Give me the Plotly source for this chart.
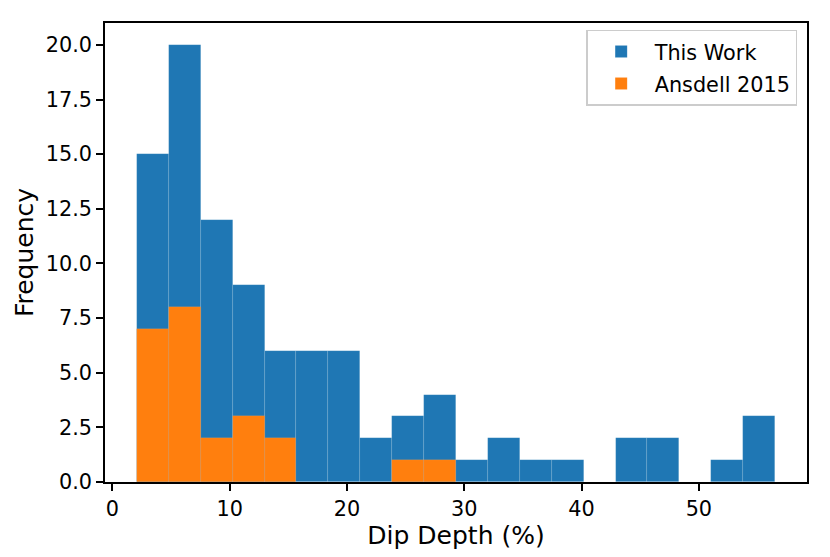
import plotly.graph_objects as go

# 直方图的分箱边界
bin_edges = [2.09, 4.81, 7.53, 10.25, 12.97, 15.69, 18.42, 21.14, 23.86, 26.58, 29.30,
             32.02, 34.74, 37.46, 40.18, 42.90, 45.62, 48.34, 51.06, 53.78, 56.50]

# 每个箱的频数
this_work = [15, 20, 12, 9, 6, 6, 6, 2, 3, 4, 1, 2, 1, 1, 0, 2, 2, 0, 1, 3]
ansdell_2015 = [7, 8, 2, 3, 2, 0, 0, 0, 1, 1, 0, 0, 0, 0, 0, 0, 0, 0, 0, 0]

series_names = ['This Work', 'Ansdell 2015']

centers = [(bin_edges[i] + bin_edges[i + 1]) / 2 for i in range(len(bin_edges) - 1)]
widths = [bin_edges[i + 1] - bin_edges[i] for i in range(len(bin_edges) - 1)]

edge = dict(width=0.6, color='rgba(255,255,255,0.15)')
data = [
    go.Bar(x=centers, y=this_work, width=widths, name=series_names[0],
           legendgroup='a', marker=dict(color='#1f77b4', line=edge)),
    go.Bar(x=centers, y=ansdell_2015, width=widths, name=series_names[1],
           legendgroup='b', marker=dict(color='#ff7f0e', line=edge)),
]

font = dict(family='DejaVu Sans', size=20.8, color='black')

x_axis_config = {
    'title': dict(text='Dip Depth (%)', standoff=0),
    'range': [-0.63, 59.22], 'dtick': 10, 'tick0': 0,
    'showline': True, 'linecolor': 'black', 'linewidth': 1.6, 'mirror': True,
    'ticks': 'outside', 'ticklen': 7, 'tickwidth': 1.6, 'tickcolor': 'black',
    'showgrid': False, 'zeroline': False,
}
y_axis_config = {
    'title': dict(text='Frequency', standoff=5),
    'range': [0, 21], 'dtick': 2.5, 'tick0': 0, 'tickformat': '.1f',
    'showline': True, 'linecolor': 'black', 'linewidth': 1.6, 'mirror': True,
    'ticks': 'outside', 'ticklen': 7, 'tickwidth': 1.6, 'tickcolor': 'black',
    'showgrid': False, 'zeroline': False,
}

# 页面 body 左上有 8px 的边距，这里把图缩小 8px 来抵消
my_layout = go.Layout(
    width=822, height=549,
    margin=dict(l=97, r=23, t=15, b=75),
    font=font,
    barmode='overlay', bargap=0,
    plot_bgcolor='white', paper_bgcolor='white',
    xaxis=x_axis_config, yaxis=y_axis_config,
    legend=dict(x=0.986, y=0.985, xanchor='right', yanchor='top',
                bordercolor='#cccccc', borderwidth=1.5, bgcolor='white',
                font=dict(family='DejaVu Sans', size=20.8),
                traceorder='grouped', tracegroupgap=2, itemwidth=57),
    showlegend=True,
)

fig = go.Figure(data=data, layout=my_layout)
fig.write_html("out.html")
